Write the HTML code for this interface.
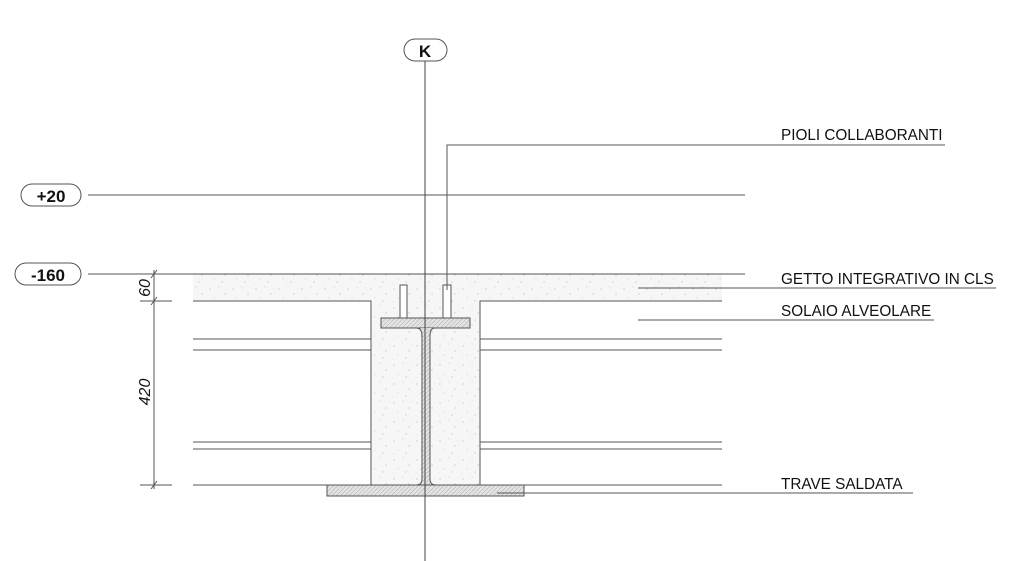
<!DOCTYPE html>
<html><head><meta charset="utf-8"><style>
html,body{margin:0;padding:0;background:#fff;width:1024px;height:561px;overflow:hidden}
text{font-family:"Liberation Sans",Arial,sans-serif;fill:#111}
</style></head><body>
<svg width="1024" height="561" viewBox="0 0 1024 561" xmlns="http://www.w3.org/2000/svg">
<defs>
<pattern id="hatch" width="3" height="3" patternUnits="userSpaceOnUse" patternTransform="rotate(45)">
<rect width="3" height="3" fill="#e4e4e4"/><line x1="0" y1="0" x2="0" y2="3" stroke="#9a9a9a" stroke-width="0.8"/>
</pattern>
<pattern id="conc" width="23" height="19" patternUnits="userSpaceOnUse">
<rect width="23" height="19" fill="#f6f6f6"/>
<circle cx="3" cy="4" r="0.6" fill="#bbb"/><circle cx="12" cy="2" r="0.5" fill="#c4c4c4"/>
<circle cx="18" cy="9" r="0.6" fill="#bbb"/><circle cx="7" cy="13" r="0.5" fill="#c0c0c0"/>
<circle cx="15" cy="16" r="0.6" fill="#bbb"/><circle cx="21" cy="3" r="0.4" fill="#ccc"/>
<circle cx="2" cy="17" r="0.4" fill="#ccc"/>
</pattern>
</defs>
<g stroke="#555" stroke-width="1" fill="none">
<rect x="193" y="274" width="529" height="27" fill="url(#conc)" stroke="none"/>
<rect x="371" y="301" width="109" height="184" fill="url(#conc)" stroke="none"/>
<line x1="88" y1="195" x2="745" y2="195"/>
<line x1="88" y1="274" x2="745" y2="274"/>
<polyline points="193,301 371,301 371,485"/>
<polyline points="722,301 480,301 480,485"/>
<line x1="193" y1="339" x2="371" y2="339"/><line x1="193" y1="350" x2="371" y2="350"/>
<line x1="193" y1="442" x2="371" y2="442"/><line x1="193" y1="449" x2="371" y2="449"/>
<line x1="480" y1="339" x2="722" y2="339"/><line x1="480" y1="350" x2="722" y2="350"/>
<line x1="480" y1="442" x2="722" y2="442"/><line x1="480" y1="449" x2="722" y2="449"/>
<line x1="193" y1="485" x2="722" y2="485"/>
<rect x="400" y="285" width="7" height="33" fill="#fff"/>
<rect x="443" y="285" width="8" height="33" fill="#fff"/>
<rect x="381" y="318" width="89" height="10" fill="url(#hatch)"/>
<path d="M421,328 Q422,332 422,340 L422,480 Q421,485 415,485 L430,485 L430,340 Q430,330 433,328" fill="url(#hatch)" stroke="none"/>
<path d="M416,328 Q422,328 422,336 L422,479 Q422,485 416,485"/>
<path d="M435,328 Q430,328 430,336 L430,479 Q430,485 436,485"/>
<rect x="327" y="485" width="197" height="11" fill="url(#hatch)"/>
<line x1="154" y1="270" x2="154" y2="489"/>
<line x1="140" y1="301" x2="172" y2="301"/><line x1="140" y1="485" x2="172" y2="485"/>
<line x1="151" y1="278" x2="157" y2="270"/><line x1="151" y1="305" x2="157" y2="297"/><line x1="151" y1="489" x2="157" y2="481"/>
<polyline points="447,290 447,145 945,145"/>
<line x1="638" y1="288" x2="996" y2="288"/>
<line x1="638" y1="320" x2="934" y2="320"/>
<line x1="497" y1="493" x2="913" y2="493"/>
<line x1="425" y1="60" x2="425" y2="561" stroke="#444"/>
<rect x="404" y="39" width="43" height="22" rx="11" fill="#fff"/>
<rect x="21" y="184" width="60" height="22" rx="11" fill="#fff"/>
<rect x="15" y="263" width="66" height="22" rx="11" fill="#fff"/>
</g>
<text x="425" y="57" font-size="17" font-weight="bold" text-anchor="middle">K</text>
<text x="51" y="202" font-size="17" font-weight="bold" text-anchor="middle">+20</text>
<text x="48" y="281" font-size="17" font-weight="bold" text-anchor="middle">-160</text>
<text transform="translate(150,288) rotate(-90)" font-size="16" font-style="italic" text-anchor="middle">60</text>
<text transform="translate(150,392) rotate(-90)" font-size="16" font-style="italic" text-anchor="middle">420</text>
<text x="781" y="140" font-size="15.3">PIOLI COLLABORANTI</text>
<text x="781" y="284" font-size="15.3">GETTO INTEGRATIVO IN CLS</text>
<text x="781" y="316" font-size="15.3">SOLAIO ALVEOLARE</text>
<text x="781" y="489" font-size="15.3">TRAVE SALDATA</text>
</svg>
</body></html>
